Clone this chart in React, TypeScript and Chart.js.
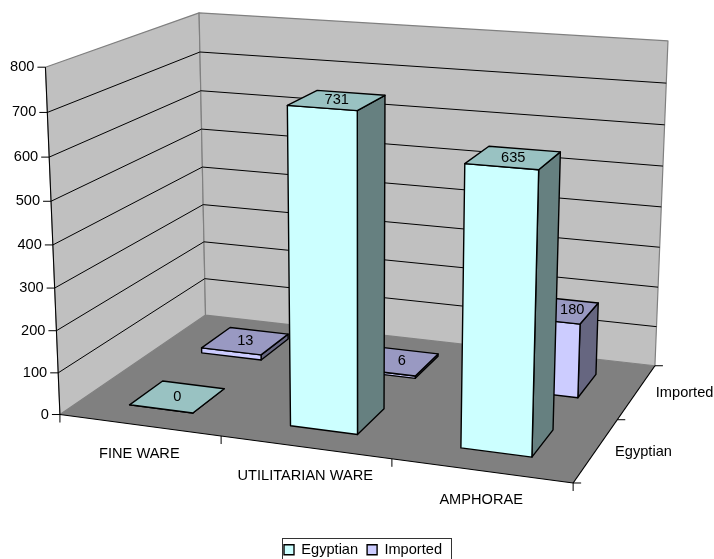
import React, { useEffect, useRef } from "react";
import { Chart, registerables } from "chart.js";

Chart.register(...registerables);

const categories = ["FINE WARE", "UTILITARIAN WARE", "AMPHORAE"];
const seriesNames = ["Egyptian", "Imported"];
const egyptian = [0, 731, 635];
const imported = [13, 6, 180];
const FONT = "Liberation Sans, Arial, sans-serif";
const FONT_SIZE = 14.6;

// Screen position of the corners of the plot box: [u, v, w, sx, sy]
const boxCorners = [
  [0, 0, 0, 60, 414.7],
  [1, 0, 0, 573, 483],
  [0, 1, 0, 205.5, 315],
  [1, 1, 0, 655, 365.7],
  [0, 0, 1, 45.5, 67],
  [0, 1, 1, 199, 13],
  [1, 1, 1, 668, 41],
];

function solveProjection(corners: number[][]) {
  const n = 11;
  const A: number[][] = Array.from({ length: n }, () => new Array(n + 1).fill(0));
  const add = (row: number[], rhs: number) => {
    for (let i = 0; i < n; i++) {
      for (let j = 0; j < n; j++) A[i][j] += row[i] * row[j];
      A[i][n] += row[i] * rhs;
    }
  };
  for (const [u, v, w, x, y] of corners) {
    add([u, v, w, 1, 0, 0, 0, 0, -x * u, -x * v, -x * w], x);
    add([0, 0, 0, 0, u, v, w, 1, -y * u, -y * v, -y * w], y);
  }
  for (let i = 0; i < n; i++) {
    let p = i;
    for (let r = i + 1; r < n; r++) if (Math.abs(A[r][i]) > Math.abs(A[p][i])) p = r;
    [A[i], A[p]] = [A[p], A[i]];
    for (let r = 0; r < n; r++) {
      if (r === i) continue;
      const f = A[r][i] / A[i][i];
      for (let c = i; c <= n; c++) A[r][c] -= f * A[i][c];
    }
  }
  return A.map((row, i) => row[n] / row[i]);
}

const P = solveProjection(boxCorners);
function project(u: number, v: number, w: number): [number, number] {
  const d = P[8] * u + P[9] * v + P[10] * w + 1;
  return [(P[0] * u + P[1] * v + P[2] * w + P[3]) / d, (P[4] * u + P[5] * v + P[6] * w + P[7]) / d];
}

const SHADES = [
  { front: "#CCFFFF", top: "#99C2C2", side: "#668080" },
  { front: "#CCCCFF", top: "#9999C2", side: "#666680" },
];
const DEPTH_FRACTION = 0.22;
// Sideways shift of the value labels that a nearer bar would otherwise cover.
const LABEL_SHIFT = [
  [0, 0, 0],
  [0, 6, 16],
];

const plot3d = {
  id: "plot3d",
  beforeDatasetsDraw(chart: any) {
    const { ctx, chartArea: a, scales } = chart;
    const xS = scales.x;
    const yS = scales.y;
    const zS = scales.depth;
    const U = (px: number) => (px - a.left) / a.width;
    const W = (px: number) => (a.bottom - px) / a.height;
    const V = (px: number) => (a.bottom - px) / a.height;

    const poly = (pts: [number, number][], fill: string | null, stroke: string | null, lw = 1) => {
      ctx.beginPath();
      pts.forEach((p, i) => (i ? ctx.lineTo(p[0], p[1]) : ctx.moveTo(p[0], p[1])));
      ctx.closePath();
      if (fill) {
        ctx.fillStyle = fill;
        ctx.fill();
      }
      if (stroke) {
        ctx.strokeStyle = stroke;
        ctx.lineWidth = lw;
        ctx.lineJoin = "round";
        ctx.stroke();
      }
    };
    const seg = (p: [number, number], q: [number, number], color = "#000", lw = 1) => {
      ctx.beginPath();
      ctx.moveTo(p[0], p[1]);
      ctx.lineTo(q[0], q[1]);
      ctx.strokeStyle = color;
      ctx.lineWidth = lw;
      ctx.stroke();
    };

    ctx.save();
    // walls and floor
    poly([project(0, 0, 0), project(0, 1, 0), project(0, 1, 1), project(0, 0, 1)], "#C0C0C0", "#808080", 1.2);
    poly([project(0, 1, 0), project(1, 1, 0), project(1, 1, 1), project(0, 1, 1)], "#C0C0C0", "#808080", 1.2);
    poly([project(0, 0, 0), project(1, 0, 0), project(1, 1, 0), project(0, 1, 0)], "#808080", null);

    // gridlines
    yS.ticks.forEach((t: any) => {
      const w = W(yS.getPixelForValue(t.value));
      if (w <= 0 || w >= 1) return;
      seg(project(0, 0, w), project(0, 1, w), "#000", 1);
      seg(project(0, 1, w), project(1, 1, w), "#000", 1);
    });

    // axes
    seg(project(0, 0, 0), project(0, 0, 1), "#000", 1);
    seg(project(0, 0, 0), project(1, 0, 0), "#000", 1.2);
    seg(project(1, 0, 0), project(1, 1, 0), "#000", 1.2);

    ctx.fillStyle = "#000";
    ctx.font = `${FONT_SIZE}px ${FONT}`;
    // value ticks
    yS.ticks.forEach((t: any) => {
      const [sx, sy] = project(0, 0, W(yS.getPixelForValue(t.value)));
      seg([sx - 8, sy], [sx, sy]);
      ctx.fillStyle = "#000";
      ctx.textAlign = "right";
      ctx.textBaseline = "middle";
      ctx.fillText(String(t.value), sx - 11, sy);
    });
    // category ticks and labels
    const catW = 1 / categories.length;
    categories.forEach((c, i) => {
      const uc = U(xS.getPixelForValue(i));
      const [lx, ly] = project(uc, 0, 0);
      ctx.fillStyle = "#000";
      ctx.textAlign = "center";
      ctx.textBaseline = "middle";
      ctx.fillText(c, lx, ly + 29);
    });
    for (let i = 0; i <= categories.length; i++) {
      const [sx, sy] = project(i * catW, 0, 0);
      seg([sx, sy], [sx, sy + 8]);
    }
    // depth ticks and labels
    seriesNames.forEach((s, i) => {
      const vc = V(zS.getPixelForValue(i));
      const [lx, ly] = project(1, vc, 0);
      ctx.fillStyle = "#000";
      ctx.textAlign = "left";
      ctx.textBaseline = "middle";
      ctx.fillText(s, lx + 19, ly + 1.5);
    });
    for (let i = 0; i <= seriesNames.length; i++) {
      const [sx, sy] = project(1, i / seriesNames.length, 0);
      seg([sx, sy], [sx + 8, sy]);
    }

    // bars, back row first
    const labels: { text: string; p: [number, number] }[] = [];
    for (let di = chart.data.datasets.length - 1; di >= 0; di--) {
      const meta = chart.getDatasetMeta(di);
      const ds = chart.data.datasets[di];
      const vc = V(zS.getPixelForValue(di));
      const v0 = vc - DEPTH_FRACTION / 2;
      const v1 = vc + DEPTH_FRACTION / 2;
      const sh = SHADES[di];
      meta.data.forEach((el: any, i: number) => {
        const u0 = U(el.x - el.width / 2);
        const u1 = U(el.x + el.width / 2);
        const h = W(el.y);
        const base = 0;
        poly([project(u1, v0, base), project(u1, v1, base), project(u1, v1, h), project(u1, v0, h)], sh.side, "#000", 1.4);
        poly([project(u0, v0, base), project(u1, v0, base), project(u1, v0, h), project(u0, v0, h)], sh.front, "#000", 1.4);
        poly([project(u0, v0, h), project(u1, v0, h), project(u1, v1, h), project(u0, v1, h)], sh.top, "#000", 1.4);
        const c = project((u0 + u1) / 2, vc, h);
        labels.push({ text: String(ds.data[i]), p: [c[0] + LABEL_SHIFT[di][i], c[1]] });
      });
    }
    labels.forEach(({ text, p }) => {
      ctx.fillStyle = "#000";
      ctx.font = `${FONT_SIZE}px ${FONT}`;
      ctx.textAlign = "center";
      ctx.textBaseline = "middle";
      ctx.fillText(text, p[0], p[1]);
    });
    ctx.restore();
    return false;
  },
  afterDraw(chart: any) {
    const { ctx, legend } = chart;
    ctx.save();
    ctx.strokeStyle = "#333";
    ctx.lineWidth = 1;
    const cx = legend.left + legend.width / 2;
    const cy = legend.top + legend.height / 2;
    ctx.strokeRect(Math.round(cx - 81) + 0.5, Math.round(cy - 12) + 0.5, 169, 22);
    ctx.restore();
  },
};

export default function App() {
  const ref = useRef<HTMLCanvasElement>(null);
  useEffect(() => {
    document.body.style.margin = "0";
    const chart = new Chart(ref.current!, {
      type: "bar",
      data: {
        labels: categories,
        datasets: [
          { label: seriesNames[0], data: egyptian, backgroundColor: SHADES[0].front, borderColor: "#000", borderWidth: 1.4, grouped: false, categoryPercentage: 0.4, barPercentage: 1 },
          { label: seriesNames[1], data: imported, backgroundColor: SHADES[1].front, borderColor: "#000", borderWidth: 1.4, grouped: false, categoryPercentage: 0.4, barPercentage: 1 },
        ],
      },
      options: {
        responsive: false,
        animation: false,
        layout: { padding: { top: 20, left: 32, right: 20, bottom: -8 } },
        scales: {
          x: { display: false },
          y: { display: false, min: 0, max: 800, ticks: { stepSize: 100 } },
          depth: { type: "category", axis: "y", display: false, labels: seriesNames, offset: true, reverse: true },
        },
        plugins: {
          tooltip: { enabled: false },
          legend: {
            position: "bottom",
            labels: { boxWidth: 10, boxHeight: 10, color: "#000", padding: 9, font: { family: FONT, size: FONT_SIZE } },
          },
          plot3d: {},
        },
      } as any,
      plugins: [plot3d],
    });
    return () => chart.destroy();
  }, []);
  return <canvas ref={ref} width={714} height={559} style={{ display: "block" }} />;
}
